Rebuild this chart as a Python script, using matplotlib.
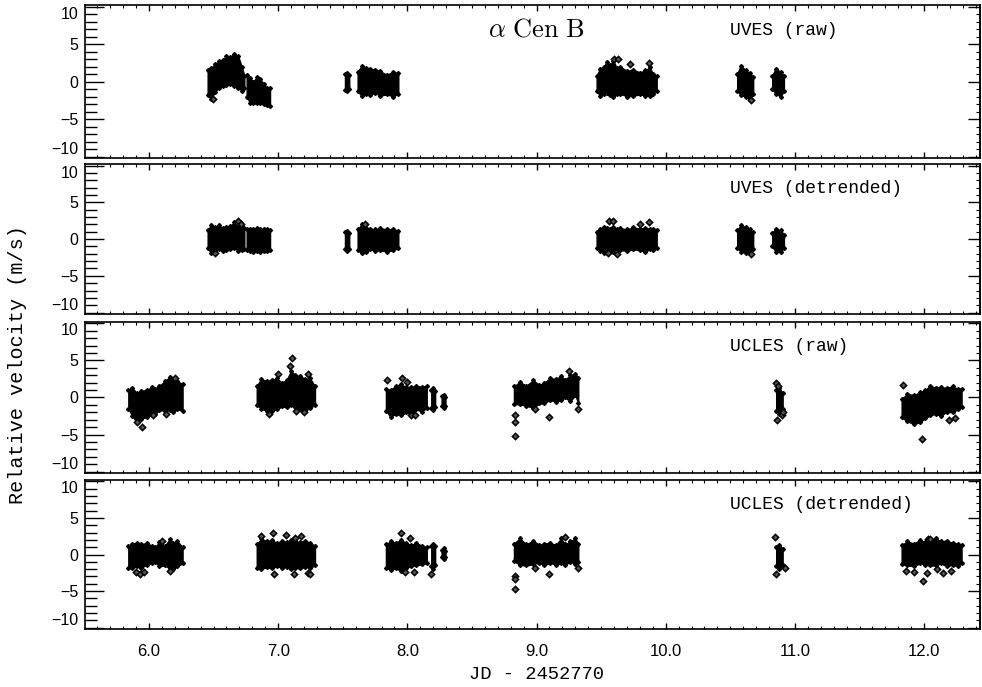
import matplotlib
matplotlib.use('Agg')
import matplotlib.pyplot as plt
from matplotlib.ticker import MultipleLocator, FormatStrFormatter

plt.rcParams['mathtext.fontset'] = 'cm'

#### data: envelope (lo/hi) of each observing block ####

# UVES blocks, node times (JD - 2452770)
uves_t = [
    [6.454, 6.48, 6.51, 6.54, 6.57, 6.60, 6.63, 6.66, 6.69, 6.717, 6.738],
    [6.756, 6.78, 6.807, 6.835, 6.86, 6.89, 6.911, 6.937],
    [7.517, 7.533, 7.55],
    [7.615, 7.646, 7.68, 7.711, 7.75, 7.788, 7.84, 7.891, 7.93],
    [9.465, 9.491, 9.52, 9.543, 9.57, 9.594, 9.62, 9.646, 9.70, 9.749, 9.80, 9.84, 9.878, 9.90, 9.93],
    [10.553, 10.58, 10.62, 10.65, 10.677],
    [10.824, 10.85, 10.89, 10.915],
]
uves_raw_hi = [
    [1.5, 1.8, 2.3, 2.7, 2.9, 3.4, 3.3, 3.7, 3.4, 2.0, 0.8],
    [0.9, 0.5, 0.0, 0.6, 0.3, -0.3, -0.9, -0.9],
    [1.0, 1.2, 0.9],
    [1.3, 2.1, 1.8, 1.7, 1.6, 1.4, 0.9, 1.3, 1.1],
    [0.8, 1.7, 2.0, 2.6, 2.2, 2.8, 1.8, 2.0, 1.4, 1.6, 1.2, 1.5, 1.9, 1.0, 0.8],
    [1.0, 2.1, 1.5, 1.1, 0.6],
    [0.8, 1.7, 1.3, 0.8],
]
uves_raw_lo = [
    [-1.8, -2.3, -1.4, -0.8, -0.6, -0.5, -0.3, -0.6, -0.8, -1.2, -0.8],
    [-2.0, -2.8, -2.9, -2.9, -2.9, -3.0, -3.1, -3.3],
    [-1.1, -1.3, -1.0],
    [-1.3, -1.9, -1.6, -1.8, -1.5, -1.9, -1.7, -2.0, -1.6],
    [-1.2, -1.9, -1.7, -1.5, -1.8, -2.1, -1.7, -1.6, -2.0, -1.9, -1.7, -1.9, -1.9, -1.6, -1.3],
    [-1.2, -1.8, -2.0, -2.4, -1.6],
    [-1.0, -1.6, -2.0, -1.2],
]
uves_det_hi = [
    [1.2, 1.9, 1.6, 1.9, 1.5, 1.6, 1.8, 2.3, 1.6, 1.8, 1.5],
    [1.3, 1.4, 1.3, 1.5, 1.3, 1.4, 1.3, 1.2],
    [0.9, 1.1, 0.8],
    [1.3, 2.0, 1.5, 1.4, 1.3, 1.5, 1.3, 1.4, 1.1],
    [1.0, 1.4, 1.7, 1.5, 1.3, 1.6, 1.4, 1.5, 1.3, 1.6, 1.4, 1.5, 1.4, 1.3, 1.2],
    [1.2, 1.9, 1.6, 1.3, 0.9],
    [0.8, 1.4, 1.2, 0.6],
]
uves_det_lo = [
    [-1.2, -1.9, -1.6, -1.4, -1.6, -1.5, -1.4, -1.2, -1.6, -1.5, -1.3],
    [-1.5, -1.6, -1.8, -1.6, -1.7, -1.6, -1.6, -1.5],
    [-1.4, -1.6, -1.3],
    [-1.5, -1.9, -1.8, -1.4, -1.6, -1.5, -1.7, -1.5, -1.2],
    [-1.2, -1.6, -1.9, -1.5, -1.5, -1.7, -1.4, -1.5, -1.6, -1.4, -1.5, -1.7, -1.4, -1.5, -1.2],
    [-1.2, -1.7, -1.9, -1.7, -1.3],
    [-1.0, -1.7, -1.7, -1.2],
]
uves_raw_out_t = [6.498, 9.60, 9.63, 9.72, 9.87, 10.66]
uves_raw_out_v = [-2.3, 3.0, 3.0, 2.3, 2.5, -2.5]
uves_det_out_t = [6.51, 6.69, 6.71, 7.67, 9.55, 9.56, 9.59, 9.62, 9.80, 9.87, 10.66]
uves_det_out_v = [-1.9, 2.4, 2.0, 2.1, -1.9, 2.4, 2.4, -2.0, 2.0, 2.3, -2.0]

# UCLES blocks
ucles_t = [
    [5.84, 5.87, 5.905, 5.94, 5.982, 6.02, 6.046, 6.08, 6.124, 6.16, 6.188, 6.22, 6.26],
    [6.834, 6.87, 6.911, 6.95, 6.988, 7.03, 7.066, 7.10, 7.13, 7.169, 7.21, 7.246, 7.285],
    [7.834, 7.87, 7.91, 7.95, 7.99, 8.03, 8.07, 8.11, 8.15],
    [8.185, 8.20, 8.215],
    [8.265, 8.28, 8.295],
    [8.825, 8.87, 8.92, 8.975, 9.02, 9.06, 9.104, 9.15, 9.19, 9.22, 9.26, 9.30, 9.323],
    [10.855, 10.88, 10.905],
    [11.826, 11.87, 11.92, 11.967, 12.01, 12.045, 12.09, 12.13, 12.174, 12.22, 12.26, 12.29],
]
ucles_raw_hi = [
    [1.0, 1.3, 0.6, 0.9, 1.0, 1.4, 1.2, 1.6, 2.2, 2.8, 2.5, 2.2, 1.8],
    [1.6, 2.5, 2.2, 2.4, 2.6, 2.0, 2.4, 3.6, 3.0, 2.9, 2.5, 2.6, 1.5],
    [1.2, 1.0, 1.6, 1.8, 1.4, 1.4, 1.6, 1.4, 1.6],
    [1.0, 1.3, 0.9],
    [0.2, 0.4, 0.1],
    [1.5, 2.1, 1.6, 2.3, 1.7, 2.0, 2.6, 2.5, 2.9, 2.4, 3.0, 3.2, 2.6],
    [1.0, 1.3, 0.6],
    [-0.2, 0.5, 0.3, 0.7, 1.0, 1.6, 1.3, 1.4, 1.3, 1.5, 1.2, 1.1],
]
ucles_raw_lo = [
    [-1.5, -2.5, -3.3, -2.9, -2.6, -2.3, -2.2, -1.7, -1.8, -1.7, -1.9, -1.6, -1.8],
    [-1.0, -1.5, -1.8, -1.8, -1.6, -1.2, -1.3, -1.0, -1.3, -1.6, -1.8, -1.4, -1.0],
    [-1.8, -2.6, -2.2, -2.4, -2.0, -2.2, -1.6, -1.9, -1.4],
    [-1.4, -1.7, -1.3],
    [-1.1, -1.4, -1.2],
    [-0.9, -0.9, -1.1, -1.4, -0.8, -0.8, -0.3, -0.6, -0.3, 0.0, -0.5, 0.3, -0.8],
    [-1.8, -2.2, -1.5],
    [-2.7, -3.2, -3.6, -3.3, -2.8, -2.4, -2.2, -2.5, -1.9, -2.0, -1.6, -1.3],
]
ucles_det_hi = [
    [1.2, 1.5, 1.6, 1.4, 1.6, 1.2, 1.0, 1.7, 1.2, 2.1, 1.6, 1.8, 1.0],
    [1.4, 2.2, 1.8, 2.0, 1.6, 1.9, 1.7, 2.0, 1.8, 1.7, 1.9, 1.6, 1.2],
    [1.4, 1.8, 1.6, 2.0, 1.6, 1.3, 1.6, 1.2, 1.0],
    [1.2, 1.5, 1.1],
    [0.6, 0.9, 0.5],
    [1.5, 2.2, 1.4, 1.9, 1.3, 1.5, 1.6, 1.3, 2.2, 1.4, 1.8, 2.2, 1.5],
    [1.0, 1.3, 0.8],
    [1.3, 1.8, 1.5, 2.0, 1.7, 1.9, 2.2, 1.8, 1.9, 1.6, 1.5, 1.3],
]
ucles_det_lo = [
    [-1.8, -1.9, -1.6, -1.8, -1.4, -1.2, -1.0, -1.6, -1.5, -1.9, -2.0, -1.6, -1.2],
    [-1.8, -2.0, -1.7, -1.9, -1.6, -1.8, -1.7, -2.0, -1.8, -1.9, -1.7, -1.8, -1.5],
    [-1.8, -2.1, -1.9, -2.2, -1.8, -1.6, -1.5, -1.3, -1.2],
    [-1.6, -2.0, -1.4],
    [-0.4, -0.6, -0.3],
    [-0.9, -1.4, -1.5, -1.3, -1.1, -1.5, -1.1, -1.4, -1.2, -1.4, -1.0, -1.3, -1.0],
    [-1.6, -2.0, -1.4],
    [-1.3, -1.5, -1.6, -1.2, -1.4, -1.5, -1.5, -1.2, -1.6, -1.4, -1.6, -1.2],
]
ucles_raw_out_t = [5.905, 5.943, 6.03, 6.13, 6.20, 7.095, 7.104, 7.00, 7.23, 7.14, 7.20, 6.93,
                   7.84, 7.96, 8.00, 8.03, 8.06, 8.83, 8.835, 8.835, 8.99, 9.10, 9.25, 9.32,
                   10.85, 10.86, 10.87, 10.90, 10.91, 11.84, 11.985, 12.19, 12.24]
ucles_raw_out_v = [-3.3, -4.0, -2.4, -2.2, 2.7, 4.2, 5.3, 3.2, 3.2, -1.8, -2.0, -2.2,
                   2.3, 2.7, 2.1, -2.4, -2.4, -2.3, -3.3, -5.2, -1.5, -2.7, 3.6, -1.5,
                   2.0, -3.1, 1.6, -2.4, -2.0, 1.7, -5.6, -3.0, -2.8]
ucles_det_out_t = [5.90, 5.93, 5.96, 6.16, 6.10, 6.87, 6.96, 7.06, 7.13, 7.18, 6.97, 7.12, 7.23, 7.25,
                   7.95, 7.98, 8.05, 8.18, 8.02, 8.83, 8.835, 8.83, 8.99, 9.10, 9.22, 9.32,
                   10.845, 10.85, 10.92, 11.86, 11.92, 11.993, 12.02, 12.10, 12.15, 12.21, 12.03, 12.045]
ucles_det_out_v = [-2.4, -2.6, -2.4, -2.2, 1.9, 2.6, 2.9, 2.7, 2.2, 2.6, -2.6, -2.6, -2.5, -2.7,
                   2.9, -2.4, -2.4, -2.7, 2.3, -2.9, -3.3, -4.7, -1.9, -2.7, 2.4, -1.9,
                   2.4, -2.6, -1.9, -2.2, -2.4, -3.6, -2.5, -2.0, -2.5, -2.3, 2.1, 2.1]

panel_labels = ['UVES (raw)', 'UVES (detrended)', 'UCLES (raw)', 'UCLES (detrended)']
y_ticks = [-10, -5, 0, 5, 10]
y_ticklabels = ['\u221210', '\u22125', '0', '5', '10']

panels = [
    (uves_t, uves_raw_lo, uves_raw_hi, uves_raw_out_t, uves_raw_out_v),
    (uves_t, uves_det_lo, uves_det_hi, uves_det_out_t, uves_det_out_v),
    (ucles_t, ucles_raw_lo, ucles_raw_hi, ucles_raw_out_t, ucles_raw_out_v),
    (ucles_t, ucles_det_lo, ucles_det_hi, ucles_det_out_t, ucles_det_out_v),
]

# axes boxes (left, bottom, width, height) in figure fraction
boxes = [
    [0.0866, 0.7700, 0.9114, 0.2227],
    [0.0866, 0.5429, 0.9114, 0.2183],
    [0.0866, 0.3115, 0.9114, 0.2198],
    [0.0866, 0.0844, 0.9114, 0.2169],
]

mono = ['Liberation Mono', 'DejaVu Sans Mono']
sans = ['Liberation Sans', 'DejaVu Sans']

fig = plt.figure(figsize=(9.82, 6.87), dpi=100)

for i, (times, los, his, out_t, out_v) in enumerate(panels):
    ax = fig.add_axes(boxes[i])
    for t, lo, hi in zip(times, los, his):
        ax.fill_between(t, lo, hi, color='black', lw=1.0)
        ax.plot(t, lo, 'D', ms=2, color='black')
        ax.plot(t, hi, 'D', ms=2, color='black')
    ax.plot(out_t, out_v, 'D', ms=3.2, mfc='#555555', mec='black', mew=1.1, ls='none')

    ax.set_xlim(5.505, 12.433)
    ax.set_ylim(-10.2, 10.2)
    ax.xaxis.set_major_locator(MultipleLocator(1))
    ax.xaxis.set_minor_locator(MultipleLocator(0.1))
    ax.xaxis.set_major_formatter(FormatStrFormatter('%.1f'))
    ax.set_yticks(y_ticks, y_ticklabels)
    ax.yaxis.set_minor_locator(MultipleLocator(1))

    ax.tick_params(axis='y', which='major', direction='in', length=13.5, width=1,
                   left=True, right=False, labelsize=11.5, pad=5, labelfontfamily=sans)
    ax.tick_params(axis='y', which='minor', direction='in', length=8.5, width=1,
                   left=True, right=False)
    ax.tick_params(axis='x', which='major', direction='in', length=4.5, width=1,
                   top=True, bottom=True, labelsize=12, pad=11,
                   labelbottom=(i == 3), labelfontfamily=sans)
    ax.tick_params(axis='x', which='minor', direction='in', length=2.5, width=0.8,
                   top=True, bottom=True)

    # IDL style: the end labels sit inside the panel height
    yt = ax.yaxis.get_major_ticks()
    yt[0].label1.set_va('bottom')
    yt[-1].label1.set_va('top')

    right = ax.secondary_yaxis('right')
    right.yaxis.set_major_locator(MultipleLocator(5))
    right.yaxis.set_minor_locator(MultipleLocator(1))
    right.tick_params(which='major', direction='in', length=8.5, width=1, labelright=False)
    right.tick_params(which='minor', direction='in', length=3, width=0.8)

    for sp in ax.spines.values():
        sp.set_linewidth(1.2)
    right.spines['right'].set_linewidth(1.2)

    ax.text(0.7207, 0.835, panel_labels[i], transform=ax.transAxes,
            ha='left', va='center', fontsize=13, family=mono)

    if i == 0:
        ax.text(0.504, 0.837, r'$\alpha\ \mathrm{Cen\ B}$', transform=ax.transAxes,
                ha='center', va='center', fontsize=19)

fig.text(0.0183, 0.469, 'Relative velocity (m/s)', rotation=90,
         ha='center', va='center', fontsize=14.5, family=mono)
fig.text(0.546, 0.0175, 'JD - 2452770', ha='center', va='center',
         fontsize=13.5, family=mono)

plt.savefig('out.png', dpi=100)
